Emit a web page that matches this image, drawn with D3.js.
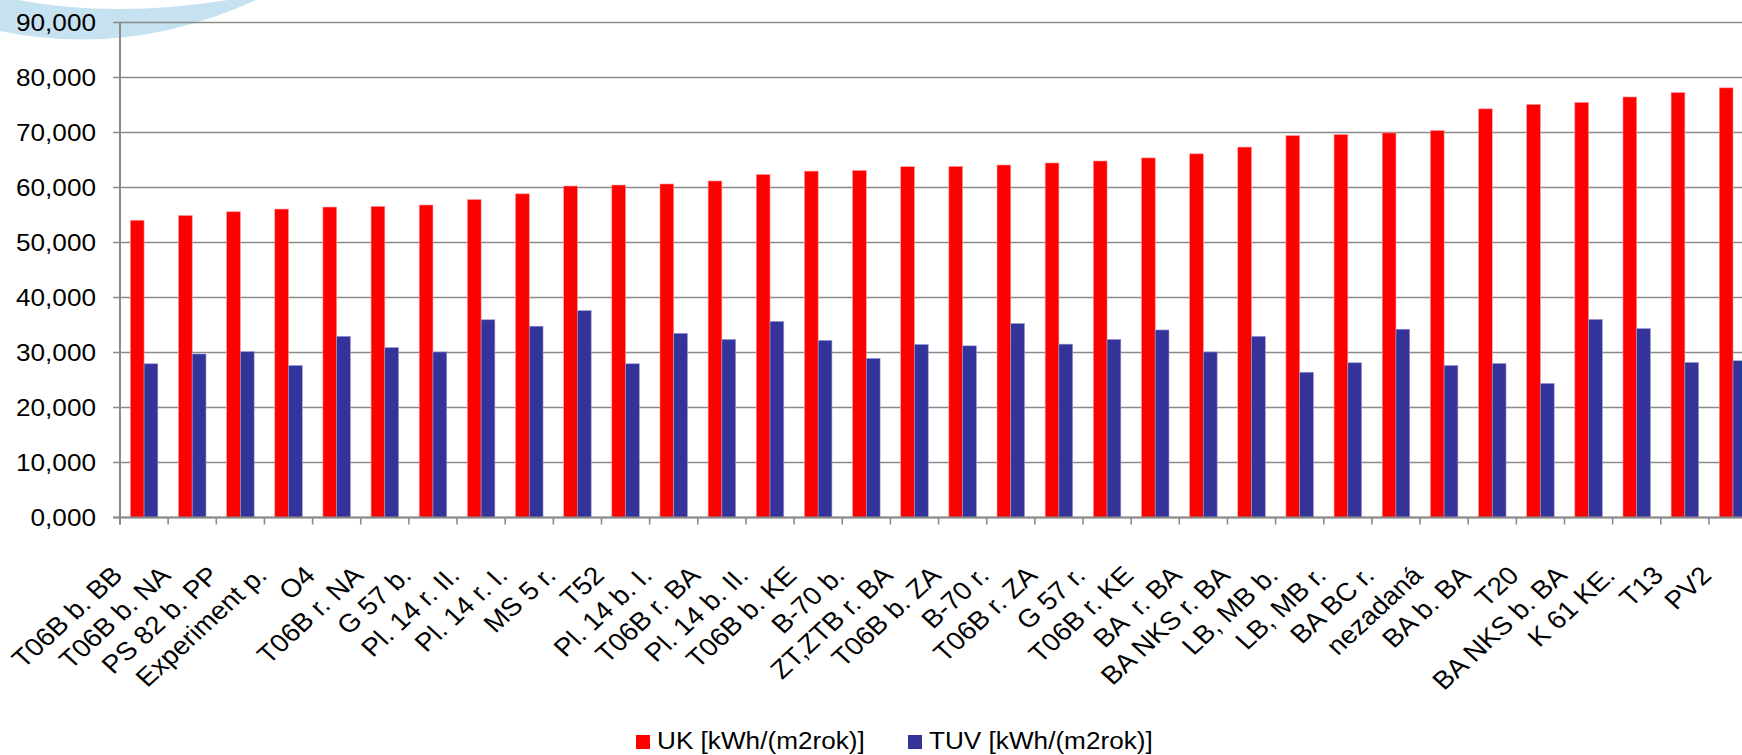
<!DOCTYPE html>
<html>
<head>
<meta charset="utf-8">
<script src="https://cdn.jsdelivr.net/npm/d3@7/dist/d3.min.js"></script>
<style>
    body { margin: 0; background: #fff; overflow: hidden; }
    text { font-family: "Liberation Sans", Arial, sans-serif; fill: #000; }
</style>
</head>
<body>
<div id="chart"></div>
<script>
// building types, sorted by UK
var categories = ["T06B b. BB", "T06B b. NA", "PS 82 b. PP", "Experiment p.", "O4", "T06B r. NA", "G 57 b.",
    "Pl. 14 r. II.", "Pl. 14 r. I.", "MS 5 r.", "T52", "Pl. 14 b. I.", "T06B r. BA", "Pl. 14 b. II.", "T06B b. KE",
    "B-70 b.", "ZT,ZTB r. BA", "T06B b. ZA", "B-70 r.", "T06B r. ZA", "G 57 r.", "T06B r. KE", "BA  r. BA",
    "BA NKS r. BA", "LB, MB b.", "LB, MB r.", "BA BC r.", "nezadaná", "BA b. BA", "T20", "BA NKS b. BA",
    "K 61 KE.", "T13", "PV2"];

var ukValues = [54.05, 54.91, 55.59, 56.08, 56.45, 56.57, 56.82, 57.81, 58.85, 60.27, 60.45, 60.64, 61.19,
    62.36, 62.98, 63.10, 63.78, 63.84, 64.09, 64.46, 64.82, 65.38, 66.12, 67.35, 69.44, 69.63, 69.93, 70.36,
    74.30, 75.10, 75.47, 76.46, 77.26, 78.12];

var tuvValues = [27.95, 29.73, 30.16, 27.64, 32.94, 30.90, 30.10, 35.95, 34.78, 37.61, 27.95, 33.49, 32.38,
    35.64, 32.20, 28.93, 31.46, 31.21, 35.27, 31.52, 32.38, 34.10, 30.10, 32.94, 26.41, 28.13, 34.23, 27.64,
    28.01, 24.38, 36.01, 34.35, 28.19, 28.50];

var seriesNames = ["UK [kWh/(m2rok)]", "TUV [kWh/(m2rok)]"];
var seriesColors = ["#ff0000", "#333399"];
var yTicks = [0, 10, 20, 30, 40, 50, 60, 70, 80, 90];

var width = 1742, height = 755;
var plotLeft = 120, plotTop = 22.5, plotBottom = 517.5;
var step = 48.15;          // category width in px, plot runs past the right edge
var stretch = 1.09;        // the source picture is a bit wider than tall

var svg = d3.select("#chart").append("svg")
    .attr("width", width).attr("height", height)
    .style("display", "block");

// light blue swoosh from the slide background
svg.append("path")
    .attr("d", "M0,0 L18,0 Q115,18 228,0 L256,0 Q130,58 0,31 Z")
    .attr("fill", "#c6e1f0");

var x0 = d3.scaleBand().domain(categories)
    .range([plotLeft, plotLeft + step * categories.length]).padding(0);
var bw = x0.bandwidth();
var gap = bw * 0.75 / 3.5;
var x1 = d3.scaleBand().domain([0, 1]).range([gap, bw - gap]).padding(0);
var y = d3.scaleLinear().domain([0, 90]).range([plotBottom, plotTop]);

var fmt = function (v) { return d3.format(".3f")(v).replace(".", ","); };

// gridlines
svg.append("g").selectAll("line").data(yTicks).enter().append("line")
    .attr("x1", plotLeft - 7).attr("x2", width)
    .attr("y1", function (d) { return y(d); }).attr("y2", function (d) { return y(d); })
    .attr("stroke", "#8a8a8a").attr("stroke-width", 1.6);

// y labels
svg.append("g").selectAll("text").data(yTicks).enter().append("text")
    .attr("transform", function (d) { return "translate(96," + y(d) + ") scale(" + stretch + ",1)"; })
    .attr("dy", "0.35em")
    .attr("text-anchor", "end")
    .style("font-size", "24px")
    .text(fmt);

// bars
var rows = categories.map(function (c, i) { return { cat: c, vals: [ukValues[i], tuvValues[i]] }; });
var groups = svg.append("g").selectAll("g").data(rows).enter().append("g")
    .attr("transform", function (d) { return "translate(" + x0(d.cat) + ",0)"; });
groups.selectAll("rect").data(function (d) { return d.vals; }).enter().append("rect")
    .attr("x", function (d, i) { return x1(i); })
    .attr("width", x1.bandwidth())
    .attr("y", function (d) { return y(d); })
    .attr("height", function (d) { return plotBottom - y(d); })
    .attr("fill", function (d, i) { return seriesColors[i]; })
    .attr("stroke", function (d, i) { return i == 0 ? "#ff9a9a" : "#9a9ad0"; })
    .attr("stroke-width", 0.6);

// axis lines
svg.append("line").attr("x1", plotLeft).attr("x2", plotLeft).attr("y1", plotTop).attr("y2", plotBottom + 7)
    .attr("stroke", "#8a8a8a").attr("stroke-width", 2);
svg.append("line").attr("x1", plotLeft - 7).attr("x2", width).attr("y1", plotBottom).attr("y2", plotBottom)
    .attr("stroke", "#8a8a8a").attr("stroke-width", 2);

// category boundary ticks
var bounds = d3.range(categories.length + 1).map(function (i) { return plotLeft + i * x0.step(); });
svg.append("g").selectAll("line").data(bounds).enter().append("line")
    .attr("x1", function (d) { return d; }).attr("x2", function (d) { return d; })
    .attr("y1", plotBottom).attr("y2", plotBottom + 7)
    .attr("stroke", "#8a8a8a").attr("stroke-width", 1.6);

// rotated category labels
svg.append("g").selectAll("text").data(categories).enter().append("text")
    .attr("transform", function (d) {
        return "translate(" + (x0(d) + bw / 2 - 20) + ",577) scale(" + stretch + ",1) rotate(-45)";
    })
    .attr("text-anchor", "end")
    .style("font-size", "25.5px")
    .style("white-space", "pre")
    .text(function (d) { return d; });

// legend
var legendX = [636, 908];
var legend = svg.append("g").selectAll("g").data(seriesNames).enter().append("g")
    .attr("transform", function (d, i) { return "translate(" + legendX[i] + ",735)"; });
legend.append("rect").attr("width", 14).attr("height", 14)
    .attr("fill", function (d, i) { return seriesColors[i]; });
legend.append("text")
    .attr("transform", "translate(21,14) scale(" + stretch + ",1)")
    .style("font-size", "24px")
    .text(function (d) { return d; });
</script>
</body>
</html>
